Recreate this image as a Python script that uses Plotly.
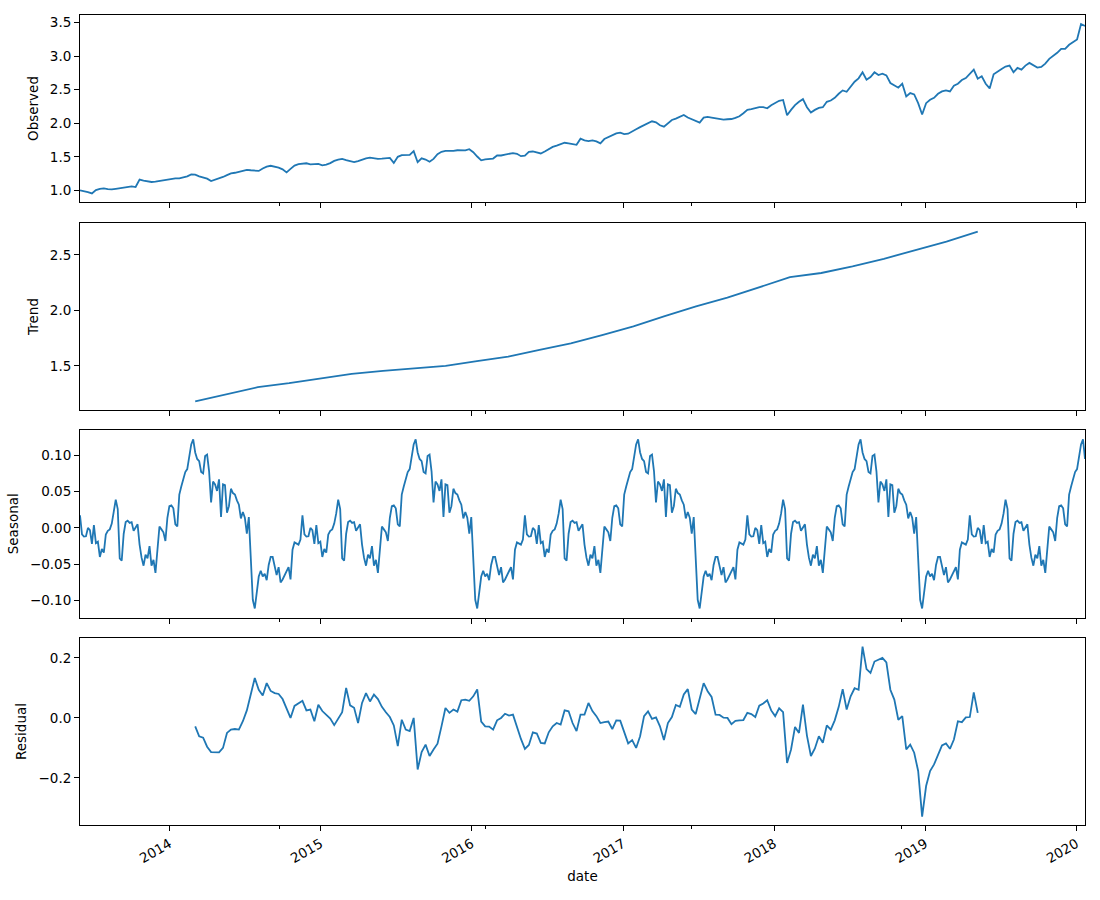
import pandas as pd
import plotly.graph_objects as go

# ---------------- data ----------------
start_date = "2013-05-30"
end_date = "2020-01-22"

observed = [
    1.00, 0.99, 0.975, 0.955, 1.005, 1.023, 1.03, 1.02, 1.015, 1.024,
    1.035, 1.048, 1.06, 1.06, 1.05, 1.16, 1.145, 1.135, 1.125, 1.13,
    1.14, 1.16, 1.17, 1.178, 1.18, 1.18, 1.19, 1.21, 1.237, 1.235,
    1.21, 1.196, 1.175, 1.14, 1.157, 1.177, 1.2, 1.227, 1.252, 1.263,
    1.278, 1.30, 1.307, 1.30, 1.296, 1.29, 1.327, 1.355, 1.367, 1.355,
    1.34, 1.313, 1.268, 1.32, 1.37, 1.39, 1.40, 1.404, 1.388, 1.388,
    1.396, 1.373, 1.383, 1.407, 1.44, 1.458, 1.47, 1.45, 1.434, 1.423,
    1.437, 1.46, 1.476, 1.488, 1.477, 1.471, 1.474, 1.478, 1.484, 1.41,
    1.50, 1.526, 1.53, 1.53, 1.585, 1.42, 1.478, 1.46, 1.427, 1.47,
    1.54, 1.575, 1.59, 1.586, 1.59, 1.598, 1.598, 1.595, 1.613, 1.57,
    1.505, 1.448, 1.462, 1.466, 1.475, 1.52, 1.52, 1.534, 1.547, 1.555,
    1.545, 1.51, 1.518, 1.575, 1.58, 1.57, 1.55, 1.58, 1.62, 1.648,
    1.667, 1.69, 1.71, 1.70, 1.69, 1.68, 1.77, 1.745, 1.735, 1.745,
    1.73, 1.70, 1.765, 1.795, 1.823, 1.85, 1.86, 1.84, 1.845, 1.872,
    1.91, 1.943, 1.97, 2.0, 2.03, 2.015, 1.97, 1.95, 1.995, 2.05,
    2.07, 2.098, 2.125, 2.087, 2.065, 2.04, 2.01, 2.085, 2.095, 2.085,
    2.074, 2.065, 2.056, 2.06, 2.064, 2.08, 2.105, 2.15, 2.20, 2.21,
    2.224, 2.24, 2.24, 2.224, 2.27, 2.307, 2.335, 2.348, 2.12, 2.20,
    2.27, 2.32, 2.36, 2.24, 2.16, 2.20, 2.23, 2.24, 2.32, 2.34,
    2.38, 2.44, 2.49, 2.47, 2.55, 2.62, 2.67, 2.76, 2.65, 2.69,
    2.76, 2.72, 2.74, 2.713, 2.60, 2.56, 2.53, 2.59, 2.40, 2.45,
    2.43, 2.30, 2.13, 2.30, 2.35, 2.38, 2.44, 2.475, 2.49, 2.475,
    2.56, 2.59, 2.645, 2.675, 2.735, 2.80, 2.665, 2.70, 2.59, 2.52,
    2.73, 2.775, 2.81, 2.845, 2.86, 2.76, 2.825, 2.80, 2.86, 2.90,
    2.87, 2.83, 2.84, 2.89, 2.96, 3.00, 3.05, 3.11, 3.11, 3.17,
    3.21, 3.25, 3.48, 3.45,
]

# seasonal component (one value every ~2 px of the reference; period repeats)
seasonal = [
    # period 1
    0.0175, -0.009, -0.012, -0.0115, 0.0, -0.003, -0.022, 0.004, -0.021, -0.019,
    -0.040, -0.029, -0.034, -0.009, -0.004, -0.002, 0.006, 0.020, 0.039, 0.026,
    -0.042, -0.045, -0.008, 0.008, 0.010, 0.007, 0.008, -0.004, 0.0, 0.005,
    -0.023, -0.041, -0.052, -0.037, -0.042, -0.025, -0.052, -0.044, -0.062, -0.028,
    0.002, -0.002, -0.006, -0.018, 0.014, 0.030, 0.031, 0.027, 0.005, 0.002,
    0.046, 0.057, 0.068, 0.077, 0.081, 0.096, 0.115, 0.122, 0.104, 0.095,
    0.092, 0.077, 0.075, 0.099, 0.101, 0.078, 0.035, 0.064, 0.060, 0.051,
    0.067, 0.015, 0.060, 0.059, 0.021, 0.030, 0.054, 0.048, 0.046, 0.038,
    0.032, 0.013, 0.022, 0.014, -0.008, 0.015, -0.039, -0.099, -0.111, -0.088,
    -0.067, -0.059, -0.067, -0.063, -0.072, -0.051, -0.040, -0.040, -0.055, -0.065,
    -0.054, -0.075, -0.071, -0.065, -0.059, -0.054, -0.071, -0.030, -0.020, -0.022,
    -0.023, -0.016,
    # period 2
    0.0175, -0.009, -0.012, -0.0115, 0.0, -0.003, -0.022, 0.004, -0.021, -0.019,
    -0.040, -0.029, -0.034, -0.009, -0.004, -0.002, 0.006, 0.020, 0.039, 0.026,
    -0.042, -0.045, -0.008, 0.008, 0.010, 0.007, 0.008, -0.004, 0.0, 0.005,
    -0.023, -0.041, -0.052, -0.037, -0.042, -0.025, -0.052, -0.044, -0.062, -0.028,
    0.002, -0.002, -0.006, -0.018, 0.014, 0.030, 0.031, 0.027, 0.005, 0.002,
    0.046, 0.057, 0.068, 0.077, 0.081, 0.096, 0.115, 0.122, 0.104, 0.095,
    0.092, 0.077, 0.075, 0.099, 0.101, 0.078, 0.035, 0.064, 0.060, 0.051,
    0.067, 0.015, 0.060, 0.059, 0.021, 0.030, 0.054, 0.048, 0.046, 0.038,
    0.032, 0.013, 0.022, 0.014, -0.008, 0.015, -0.039, -0.099, -0.111, -0.088,
    -0.067, -0.059, -0.067, -0.063, -0.072, -0.051, -0.040, -0.040, -0.055, -0.065,
    -0.054, -0.075, -0.071, -0.065, -0.059, -0.054, -0.071, -0.030, -0.020, -0.022,
    -0.023, -0.016,
    # period 3
    0.0175, -0.009, -0.012, -0.0115, 0.0, -0.003, -0.022, 0.004, -0.021, -0.019,
    -0.040, -0.029, -0.034, -0.009, -0.004, -0.002, 0.006, 0.020, 0.039, 0.026,
    -0.042, -0.045, -0.008, 0.008, 0.010, 0.007, 0.008, -0.004, 0.0, 0.005,
    -0.023, -0.041, -0.052, -0.037, -0.042, -0.025, -0.052, -0.044, -0.062, -0.028,
    0.002, -0.002, -0.006, -0.018, 0.014, 0.030, 0.031, 0.027, 0.005, 0.002,
    0.046, 0.057, 0.068, 0.077, 0.081, 0.096, 0.115, 0.122, 0.104, 0.095,
    0.092, 0.077, 0.075, 0.099, 0.101, 0.078, 0.035, 0.064, 0.060, 0.051,
    0.067, 0.015, 0.060, 0.059, 0.021, 0.030, 0.054, 0.048, 0.046, 0.038,
    0.032, 0.013, 0.022, 0.014, -0.008, 0.015, -0.039, -0.099, -0.111, -0.088,
    -0.067, -0.059, -0.067, -0.063, -0.072, -0.051, -0.040, -0.040, -0.055, -0.065,
    -0.054, -0.075, -0.071, -0.065, -0.059, -0.054, -0.071, -0.030, -0.020, -0.022,
    -0.023, -0.016,
    # period 4
    0.0175, -0.009, -0.012, -0.0115, 0.0, -0.003, -0.022, 0.004, -0.021, -0.019,
    -0.040, -0.029, -0.034, -0.009, -0.004, -0.002, 0.006, 0.020, 0.039, 0.026,
    -0.042, -0.045, -0.008, 0.008, 0.010, 0.007, 0.008, -0.004, 0.0, 0.005,
    -0.023, -0.041, -0.052, -0.037, -0.042, -0.025, -0.052, -0.044, -0.062, -0.028,
    0.002, -0.002, -0.006, -0.018, 0.014, 0.030, 0.031, 0.027, 0.005, 0.002,
    0.046, 0.057, 0.068, 0.077, 0.081, 0.096, 0.115, 0.122, 0.104, 0.095,
    0.092, 0.077, 0.075, 0.099, 0.101, 0.078, 0.035, 0.064, 0.060, 0.051,
    0.067, 0.015, 0.060, 0.059, 0.021, 0.030, 0.054, 0.048, 0.046, 0.038,
    0.032, 0.013, 0.022, 0.014, -0.008, 0.015, -0.039, -0.099, -0.111, -0.088,
    -0.067, -0.059, -0.067, -0.063, -0.072, -0.051, -0.040, -0.040, -0.055, -0.065,
    -0.054, -0.075, -0.071, -0.065, -0.059, -0.054, -0.071, -0.030, -0.020, -0.022,
    -0.023, -0.016,
    # partial period 5
    0.0175, -0.009, -0.012, -0.0115, 0.0, -0.003, -0.022, 0.004, -0.021, -0.019,
    -0.040, -0.029, -0.034, -0.009, -0.004, -0.002, 0.006, 0.020, 0.039, 0.026,
    -0.042, -0.045, -0.008, 0.008, 0.010, 0.007, 0.008, -0.004, 0.0, 0.005,
    -0.023, -0.041, -0.052, -0.037, -0.042, -0.025, -0.052, -0.044, -0.062, -0.028,
    0.002, -0.002, -0.006, -0.018, 0.014, 0.030, 0.031, 0.027, 0.005, 0.002,
    0.046, 0.057, 0.068, 0.077, 0.081, 0.096, 0.115, 0.122, 0.095,
]

trend = [
    1.180, 1.243, 1.308, 1.344, 1.384, 1.429, 1.456, 1.477, 1.500, 1.542,
    1.583, 1.645, 1.702, 1.776, 1.856, 1.947, 2.035, 2.114, 2.208, 2.298,
    2.336, 2.395, 2.464, 2.540, 2.618, 2.709,
]

residual = [
    -0.028, -0.061, -0.066, -0.096, -0.114, -0.114, -0.115, -0.10, -0.05, -0.039,
    -0.037, -0.039, -0.011, 0.025, 0.083, 0.133, 0.094, 0.075, 0.116, 0.09,
    0.083, 0.08, 0.063, 0.028, 0.0, 0.04, 0.05, 0.057, 0.025, 0.028,
    -0.011, 0.044, 0.023, 0.01, -0.002, -0.024, -0.003, 0.019, 0.10, 0.042,
    0.034, -0.017, 0.05, 0.083, 0.055, 0.078, 0.063, 0.037, 0.019, 0.003,
    -0.025, -0.094, -0.006, -0.039, -0.044, 0.0, -0.172, -0.114, -0.089, -0.127,
    -0.105, -0.086, -0.028, 0.033, 0.017, 0.028, 0.021, 0.059, 0.061, 0.057,
    0.072, 0.095, -0.012, -0.028, -0.029, -0.039, -0.008, 0.0, 0.014, 0.008,
    0.011, -0.033, -0.07, -0.103, -0.09, -0.048, -0.052, -0.083, -0.085, -0.048,
    -0.028, -0.017, -0.022, 0.025, 0.022, -0.017, -0.044, 0.011, 0.011, 0.05,
    0.023, 0.006, -0.017, -0.014, -0.012, -0.037, -0.008, -0.009, -0.044, -0.085,
    -0.074, -0.10, -0.061, 0.006, 0.022, -0.003, 0.002, -0.028, -0.074, -0.017,
    0.003, 0.043, 0.037, 0.078, 0.096, 0.028, 0.013, 0.066, 0.116, 0.089,
    0.07, 0.011, 0.01, 0.001, 0.0, -0.021, -0.01, -0.008, -0.007, 0.017,
    0.013, 0.003, 0.041, 0.048, 0.059, 0.025, 0.006, 0.032, 0.019, -0.15,
    -0.105, -0.03, -0.05, 0.044, -0.059, -0.127, -0.102, -0.061, -0.083, -0.025,
    -0.039, -0.008, 0.037, 0.096, 0.028, 0.072, 0.099, 0.094, 0.238, 0.163,
    0.15, 0.188, 0.194, 0.2, 0.185, 0.094, 0.061, -0.006, 0.006, -0.105,
    -0.089, -0.116, -0.177, -0.329, -0.227, -0.177, -0.155, -0.122, -0.092, -0.085,
    -0.103, -0.072, -0.011, -0.014, 0.002, 0.003, 0.085, 0.017,
]
resid_start_idx = 29

year_ticks = ["2014-01-01", "2015-01-01", "2016-01-01", "2017-01-01",
              "2018-01-01", "2019-01-01", "2020-01-01"]
year_labels = ["2014", "2015", "2016", "2017", "2018", "2019", "2020"]
minor_ticks = ["2014-09-24", "2016-02-03", "2017-06-16", "2018-11-05"]

panel_names = ["Observed", "Trend", "Seasonal", "Residual"]
y_tickvals = [
    [1.0, 1.5, 2.0, 2.5, 3.0, 3.5],
    [1.5, 2.0, 2.5],
    [-0.10, -0.05, 0.0, 0.05, 0.10],
    [-0.2, 0.0, 0.2],
]

# ---------------- build ----------------
dates = pd.date_range(start_date, end_date, periods=len(observed))
seas_dates = pd.date_range(start_date, end_date, periods=len(seasonal))
resid_dates = dates[resid_start_idx:resid_start_idx + len(residual)]
trend_dates = pd.date_range(resid_dates[0], resid_dates[-1], periods=len(trend))

LINE = dict(color="#1f77b4", width=1.8)
FONT = dict(family="DejaVu Sans", size=13.5, color="black")

fig = go.Figure()
series = [(dates, observed), (trend_dates, trend), (seas_dates, seasonal), (resid_dates, residual)]
for k, (xs, ys) in enumerate(series):
    sfx = "" if k == 0 else str(k + 1)
    fig.add_trace(go.Scatter(x=xs, y=ys, mode="lines", line=LINE,
                             xaxis="x" + sfx, yaxis="y" + sfx, showlegend=False,
                             hoverinfo="x+y"))

W, H = 1100, 900
ml, mr, mt, mb = 78, 15, 15, 75
plot_h = H - mt - mb
panel_px = [(15, 202), (223, 410), (430, 617.5), (638, 825)]
y_ranges = [[0.827, 3.614], [1.103, 2.786], [-0.1234, 0.1349], [-0.357, 0.2665]]
y_formats = [".1f", ".1f", ".2f", ".1f"]

layout = dict(
    width=W, height=H,
    margin=dict(l=ml, r=mr, t=mt, b=mb, pad=0),
    paper_bgcolor="white", plot_bgcolor="white",
    font=FONT, showlegend=False,
)

for k in range(4):
    sfx = "" if k == 0 else str(k + 1)
    top, bot = panel_px[k]
    dom = [1 - (bot - mt) / plot_h, 1 - (top - mt) / plot_h]
    xa = dict(
        domain=[0, 1], anchor="y" + sfx,
        range=[start_date, end_date], type="date",
        tickmode="array", tickvals=year_ticks, ticktext=year_labels,
        showticklabels=(k == 3), tickangle=-30,
        ticks="outside", ticklen=5, tickwidth=1, tickcolor="black",
        minor=dict(tickmode="array", tickvals=minor_ticks, ticks="outside",
                   ticklen=3, tickwidth=1, tickcolor="black", showgrid=False),
        showline=True, mirror=True, linecolor="black", linewidth=1,
        showgrid=False, zeroline=False, tickfont=FONT,
    )
    if k > 0:
        xa["matches"] = "x"
    if k == 3:
        xa["title"] = dict(text="date", font=FONT, standoff=6)
    ya = dict(
        domain=dom, anchor="x" + sfx, range=y_ranges[k],
        tickmode="array", tickvals=y_tickvals[k], tickformat=y_formats[k],
        ticks="outside", ticklen=5, tickwidth=1, tickcolor="black",
        showline=True, mirror=True, linecolor="black", linewidth=1,
        showgrid=False, zeroline=False, tickfont=FONT,
        title=dict(text=panel_names[k], font=FONT, standoff=8),
    )
    layout["xaxis" + sfx] = xa
    layout["yaxis" + sfx] = ya

fig.update_layout(**layout)
fig.write_html("out.html")
